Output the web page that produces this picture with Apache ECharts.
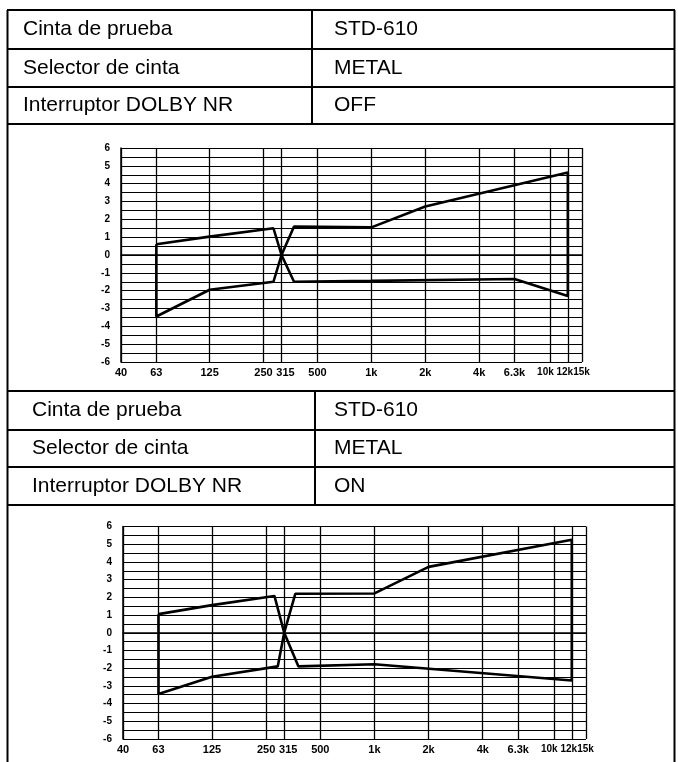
<!DOCTYPE html>
<html>
<head>
<meta charset="utf-8">
<script src="https://cdn.jsdelivr.net/npm/echarts@6/dist/echarts.min.js"></script>
<style>
html,body{margin:0;padding:0;background:#fff;}
#chart{width:678px;height:762px;}
</style>
</head>
<body>
<div id="chart"></div>
<script>
// ---- data ----
const tableLabels = ['Cinta de prueba', 'Selector de cinta', 'Interruptor DOLBY NR'];
const table1Values = ['STD-610', 'METAL', 'OFF'];
const table2Values = ['STD-610', 'METAL', 'ON'];

const freqTicks = [40, 63, 125, 250, 315, 500, 1000, 2000, 4000, 6300, 10000, 12500, 15000];
const freqTickLabels = ['40', '63', '125', '250', '315', '500', '1k', '2k', '4k', '6.3k', '10k', '12k', '15k'];

// Dolby NR OFF – tolerance limits (dB)
const offUpperHz = [63, 125, 284, 315, 370, 1000, 2000, 12500];
const offUpperDb = [0.6, 1.03, 1.5, 0, 1.6, 1.55, 2.72, 4.62];
const offLowerHz = [63, 125, 284, 315, 370, 1000, 6300, 12500];
const offLowerDb = [-3.45, -1.95, -1.5, 0, -1.5, -1.45, -1.35, -2.3];

// Dolby NR ON – tolerance limits (dB)
const onUpperHz = [63, 125, 278, 315, 363, 1000, 2000, 12500];
const onUpperDb = [1.05, 1.56, 2.08, 0, 2.2, 2.22, 3.72, 5.25];
const onLowerHz = [63, 125, 290, 315, 378, 1000, 12500];
const onLowerDb = [-3.46, -2.48, -1.9, 0, -1.9, -1.78, -2.7];

// ---- build ----
function outline(uHz, uDb, lHz, lDb) {
  const pts = uHz.map((f, i) => [f, uDb[i]]);
  for (let i = lHz.length - 1; i >= 0; i--) pts.push([lHz[i], lDb[i]]);
  pts.push(pts[0]);
  return pts;
}
const FONT = "'Liberation Sans', Arial, sans-serif";
// label style keys (crowded labels nudged so they do not collide, as in the print)
const labelStyleKey = { '315': 'r', '10k': 'a', '12k': 'b', '15k': 'e' };
function freqLabel(v) {
  for (let i = 0; i < freqTicks.length; i++) {
    if (Math.abs(Math.log(v / freqTicks[i])) < 0.01) {
      const s = freqTickLabels[i];
      return '{' + (labelStyleKey[s] || 'n') + '|' + s + '}';
    }
  }
  return '';
}
function lab(size, pad) {
  const o = { fontSize: size, color: '#000', fontWeight: 'bold', fontFamily: FONT };
  if (pad) o.padding = pad;
  return o;
}

function makeX(idx) {
  return {
    type: 'log', logBase: 10, min: 40, max: 15001, gridIndex: idx,
    axisLine: { show: true, lineStyle: { color: '#000', width: 1.5 } },
    axisTick: { show: false },
    splitLine: { show: false },
    minorTick: { show: false },
    minorSplitLine: { show: false },
    axisLabel: {
      customValues: freqTicks,
      formatter: v => freqLabel(v),
      showMinLabel: true, showMaxLabel: true, hideOverlap: false,
      color: '#000', fontSize: 11, fontWeight: 'bold', fontFamily: FONT, margin: 5,
      rich: {
        n: lab(11),
        r: lab(11, [0, 0, 0, 8]),
        a: lab(10, [0, 10, 0, 0]),
        b: lab(10, [0, 6, 0, 0]),
        e: lab(10, [0, 1, 0, 0])
      }
    }
  };
}
function makeY(idx) {
  return {
    type: 'value', min: -6, max: 6, interval: 1, gridIndex: idx,
    axisLine: { show: true, lineStyle: { color: '#000', width: 1.5 } },
    axisTick: { show: false },
    axisLabel: { color: '#000', fontSize: 10, fontWeight: 'bold', fontFamily: FONT, margin: 11 },
    splitLine: { show: true, lineStyle: { color: '#000', width: 1.2 } },
    minorTick: { show: false, splitNumber: 2 },
    minorSplitLine: { show: true, lineStyle: { color: '#000', width: 1.2 } }
  };
}
function makeSeries(idx, data) {
  return {
    type: 'line', xAxisIndex: idx, yAxisIndex: idx,
    data: data, symbol: 'none', silent: true, animation: false,
    lineStyle: { color: '#000', width: 2.6 },
    markLine: {
      silent: true, symbol: ['none', 'none'], animation: false,
      label: { show: false },
      lineStyle: { color: '#000', width: 1.3, type: 'solid' },
      emphasis: { disabled: true },
      data: freqTicks.map(f => ({ xAxis: f }))
    }
  };
}

// ---- table graphics ----
const graphics = [];
function hline(y, x1, x2, w) {
  graphics.push({ type: 'line', shape: { x1: x1, y1: y, x2: x2, y2: y }, style: { stroke: '#000', lineWidth: w || 2 }, silent: true });
}
function vline(x, y1, y2, w) {
  graphics.push({ type: 'line', shape: { x1: x, y1: y1, x2: x, y2: y2 }, style: { stroke: '#000', lineWidth: w || 2 }, silent: true });
}
function txt(s, x, y) {
  graphics.push({ type: 'text', x: x, y: y, silent: true,
    style: { text: s, fill: '#000', font: "21px " + FONT, verticalAlign: 'middle', textVerticalAlign: 'middle' } });
}
vline(7.5, 10, 762, 2);
vline(674.5, 10, 762, 2);
[10, 49, 87, 124, 391, 430, 467, 505].forEach(y => hline(y, 7, 675, 2));
vline(312, 10, 124, 2);
vline(315, 391, 505, 2);
const rows1 = [29.5, 68, 105.5];
const rows2 = [410.5, 448.5, 486];
tableLabels.forEach((s, i) => { txt(s, 23, rows1[i]); txt(table1Values[i], 334, rows1[i]); });
tableLabels.forEach((s, i) => { txt(s, 32, rows2[i]); txt(table2Values[i], 334, rows2[i]); });

const chart = echarts.init(document.getElementById('chart'), null, { renderer: 'canvas' });
chart.setOption({
  backgroundColor: '#fff',
  animation: false,
  grid: [
    { left: 121, right: 678 - 582, top: 148, height: 214 },
    { left: 123, right: 678 - 586, top: 526.5, height: 212.5 }
  ],
  xAxis: [makeX(0), makeX(1)],
  yAxis: [makeY(0), makeY(1)],
  series: [
    makeSeries(0, outline(offUpperHz, offUpperDb, offLowerHz, offLowerDb)),
    makeSeries(1, outline(onUpperHz, onUpperDb, onLowerHz, onLowerDb))
  ],
  graphic: graphics
});
</script>
</body>
</html>
